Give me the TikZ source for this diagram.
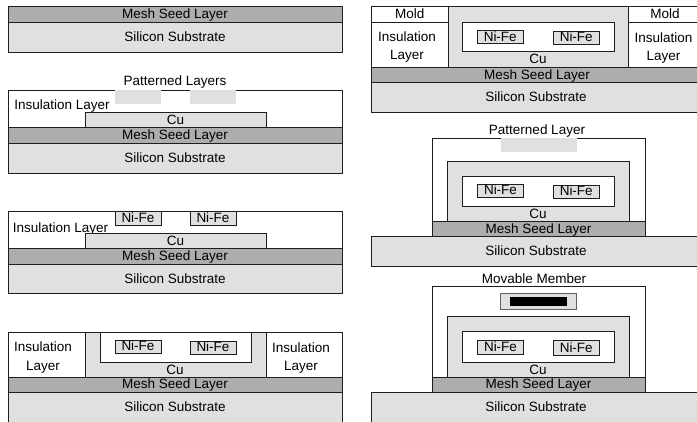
\documentclass[tikz,border=0pt]{standalone}
\usepackage{fontspec}
\setmainfont{Liberation Sans}
\usepackage{xcolor}
\definecolor{seedgray}{RGB}{173,173,173}
\definecolor{lightgray}{RGB}{224,224,224}
\definecolor{darkline}{RGB}{30,30,30}
\tikzset{
  layer/.style={draw=darkline, line width=0.9pt},
  seedlayer/.style={layer, fill=seedgray},
  subslayer/.style={layer, fill=lightgray},
  culayer/.style={layer, fill=lightgray},
  openlayer/.style={layer, fill=white},
  patchlayer/.style={fill=lightgray},
  nifebox/.style={layer, fill=lightgray},
  txt/.style={inner sep=0pt, text height=9.7pt, text depth=1pt, font=\fontsize{13.5}{16}\selectfont},
}
\begin{document}
\begin{tikzpicture}[x=1pt, y=-1pt]
  \useasboundingbox (0,0) rectangle (697,422);
  % Step 1: seed layer on substrate
  \draw[seedlayer] (8,6.5) rectangle (342,22) node[txt, pos=0.5] (seedA) {Mesh Seed Layer};
  \draw[subslayer] (8,22) rectangle (342,52) node[txt, pos=0.5] (subsA) {Silicon Substrate};
  % Step 2: patterned layers
  \node[txt] (patB) at (175,81) {Patterned Layers};
  \draw[openlayer] (8,90) rectangle (342,127);
  \fill[patchlayer] (115,90.5) rectangle (161,104);
  \fill[patchlayer] (190,90.5) rectangle (236,104);
  \node[txt] (insB) at (62,105.5) {Insulation Layer};
  \draw[culayer] (85,112.5) rectangle (266,127) node[txt, pos=0.5] (cuB) {Cu};
  \draw[seedlayer] (8,127) rectangle (342,143) node[txt, pos=0.5] (seedB) {Mesh Seed Layer};
  \draw[subslayer] (8,143) rectangle (342,173) node[txt, pos=0.5] (subsB) {Silicon Substrate};
  % Step 3: Ni-Fe plated
  \draw[openlayer] (8,211.5) rectangle (342,248);
  \draw[nifebox] (115,211.5) rectangle (161,225) node[txt, pos=0.5] (nifeC) {Ni-Fe};
  \draw[nifebox] (190,211.5) rectangle (236,225) node[txt, pos=0.5] (nifeD) {Ni-Fe};
  \node[txt] (insC) at (60.5,228) {Insulation Layer};
  \draw[culayer] (85,233.5) rectangle (266,248) node[txt, pos=0.5] (cuC) {Cu};
  \draw[seedlayer] (8,248) rectangle (342,264) node[txt, pos=0.5] (seedC) {Mesh Seed Layer};
  \draw[subslayer] (8,264) rectangle (342,293.5) node[txt, pos=0.5] (subsC) {Silicon Substrate};
  % Step 4: Cu walls
  \draw[openlayer] (8,332) rectangle (85,377);
  \draw[openlayer] (266,332) rectangle (342,377);
  \node[txt] (insD) at (43,347) {Insulation};
  \node[txt] (insE) at (43,366) {Layer};
  \node[txt] (insF) at (301,348) {Insulation};
  \node[txt] (insG) at (301,366) {Layer};
  \draw[culayer] (85,332) rectangle (266,377);
  \fill[white] (100,332) rectangle (251,362.5);
  \draw[layer] (100,332) -- (100,362.5) -- (251,362.5) -- (251,332);
  \draw[layer] (85,332) -- (266,332);
  \draw[nifebox] (115,340) rectangle (161,353) node[txt, pos=0.5] (nifeE) {Ni-Fe};
  \draw[nifebox] (190,341) rectangle (236,354) node[txt, pos=0.5] (nifeF) {Ni-Fe};
  \node[txt] (cuD) at (175,370) {Cu};
  \draw[seedlayer] (8,377) rectangle (342,392) node[txt, pos=0.5] (seedD) {Mesh Seed Layer};
  \draw[subslayer] (8,392) rectangle (342,426);
  \node[txt] (subsD) at (175,407) {Silicon Substrate};
  % Step 5: mold
  \draw[openlayer] (371.5,6.5) rectangle (448,22) node[txt, pos=0.5] (moldA) {Mold};
  \draw[openlayer] (628,6.5) rectangle (702,22);
  \node[txt] (moldB) at (665,14) {Mold};
  \draw[openlayer] (371.5,22) rectangle (448,67);
  \draw[openlayer] (628,22) rectangle (702,67);
  \node[txt] (insH) at (407,37) {Insulation};
  \node[txt] (insI) at (407,55) {Layer};
  \node[txt] (insJ) at (663.5,38) {Insulation};
  \node[txt] (insK) at (663.5,56) {Layer};
  \draw[culayer] (448,6.5) rectangle (628,67);
  \draw[openlayer] (462.5,22) rectangle (614.5,51.5);
  \draw[nifebox] (477.5,30) rectangle (523,43.5) node[txt, pos=0.5] (nifeG) {Ni-Fe};
  \draw[nifebox] (553,31) rectangle (599.5,44) node[txt, pos=0.5] (nifeH) {Ni-Fe};
  \node[txt] (cuE) at (538,59.5) {Cu};
  \draw[seedlayer] (371.5,67) rectangle (702,82.5);
  \node[txt] (seedE) at (537,75) {Mesh Seed Layer};
  \draw[subslayer] (371.5,82.5) rectangle (702,112.5);
  \node[txt] (subsE) at (536,97.5) {Silicon Substrate};
  % Step 6: patterned layer over the coil
  \node[txt] (patF) at (537,130) {Patterned Layer};
  \draw[openlayer] (432,138) rectangle (645,221.5);
  \fill[patchlayer] (501,138.5) rectangle (577,152);
  \draw[culayer] (447.5,161) rectangle (629.5,221.5);
  \draw[openlayer] (462.5,176) rectangle (614.5,206);
  \draw[nifebox] (477.5,184) rectangle (523.5,197) node[txt, pos=0.5] (nifeI) {Ni-Fe};
  \draw[nifebox] (553,185) rectangle (599.5,198) node[txt, pos=0.5] (nifeJ) {Ni-Fe};
  \node[txt] (cuF) at (538,214) {Cu};
  \draw[seedlayer] (432,221.5) rectangle (645,236) node[txt, pos=0.5] (seedF) {Mesh Seed Layer};
  \draw[subslayer] (371.5,236) rectangle (702,266);
  \node[txt] (subsF) at (536,251) {Silicon Substrate};
  % Step 7: movable member
  \node[txt] (movG) at (534,279) {Movable Member};
  \draw[openlayer] (432,286.5) rectangle (645,377);
  \draw[nifebox, draw=darkline!70] (500.5,293.5) rectangle (576.5,309);
  \fill[black] (510,297.5) rectangle (567,306);
  \draw[culayer] (447.5,316.5) rectangle (629.5,377);
  \draw[openlayer] (462.5,331.5) rectangle (614.5,362);
  \draw[nifebox] (477.5,340) rectangle (523.5,354) node[txt, pos=0.5] (nifeK) {Ni-Fe};
  \draw[nifebox] (553,340.5) rectangle (599.5,355) node[txt, pos=0.5] (nifeL) {Ni-Fe};
  \node[txt] (cuG) at (538,370) {Cu};
  \draw[seedlayer] (432,377) rectangle (645,392) node[txt, pos=0.5] (seedG) {Mesh Seed Layer};
  \draw[subslayer] (371.5,392) rectangle (702,426);
  \node[txt] (subsG) at (536,407) {Silicon Substrate};
\end{tikzpicture}
\end{document}
